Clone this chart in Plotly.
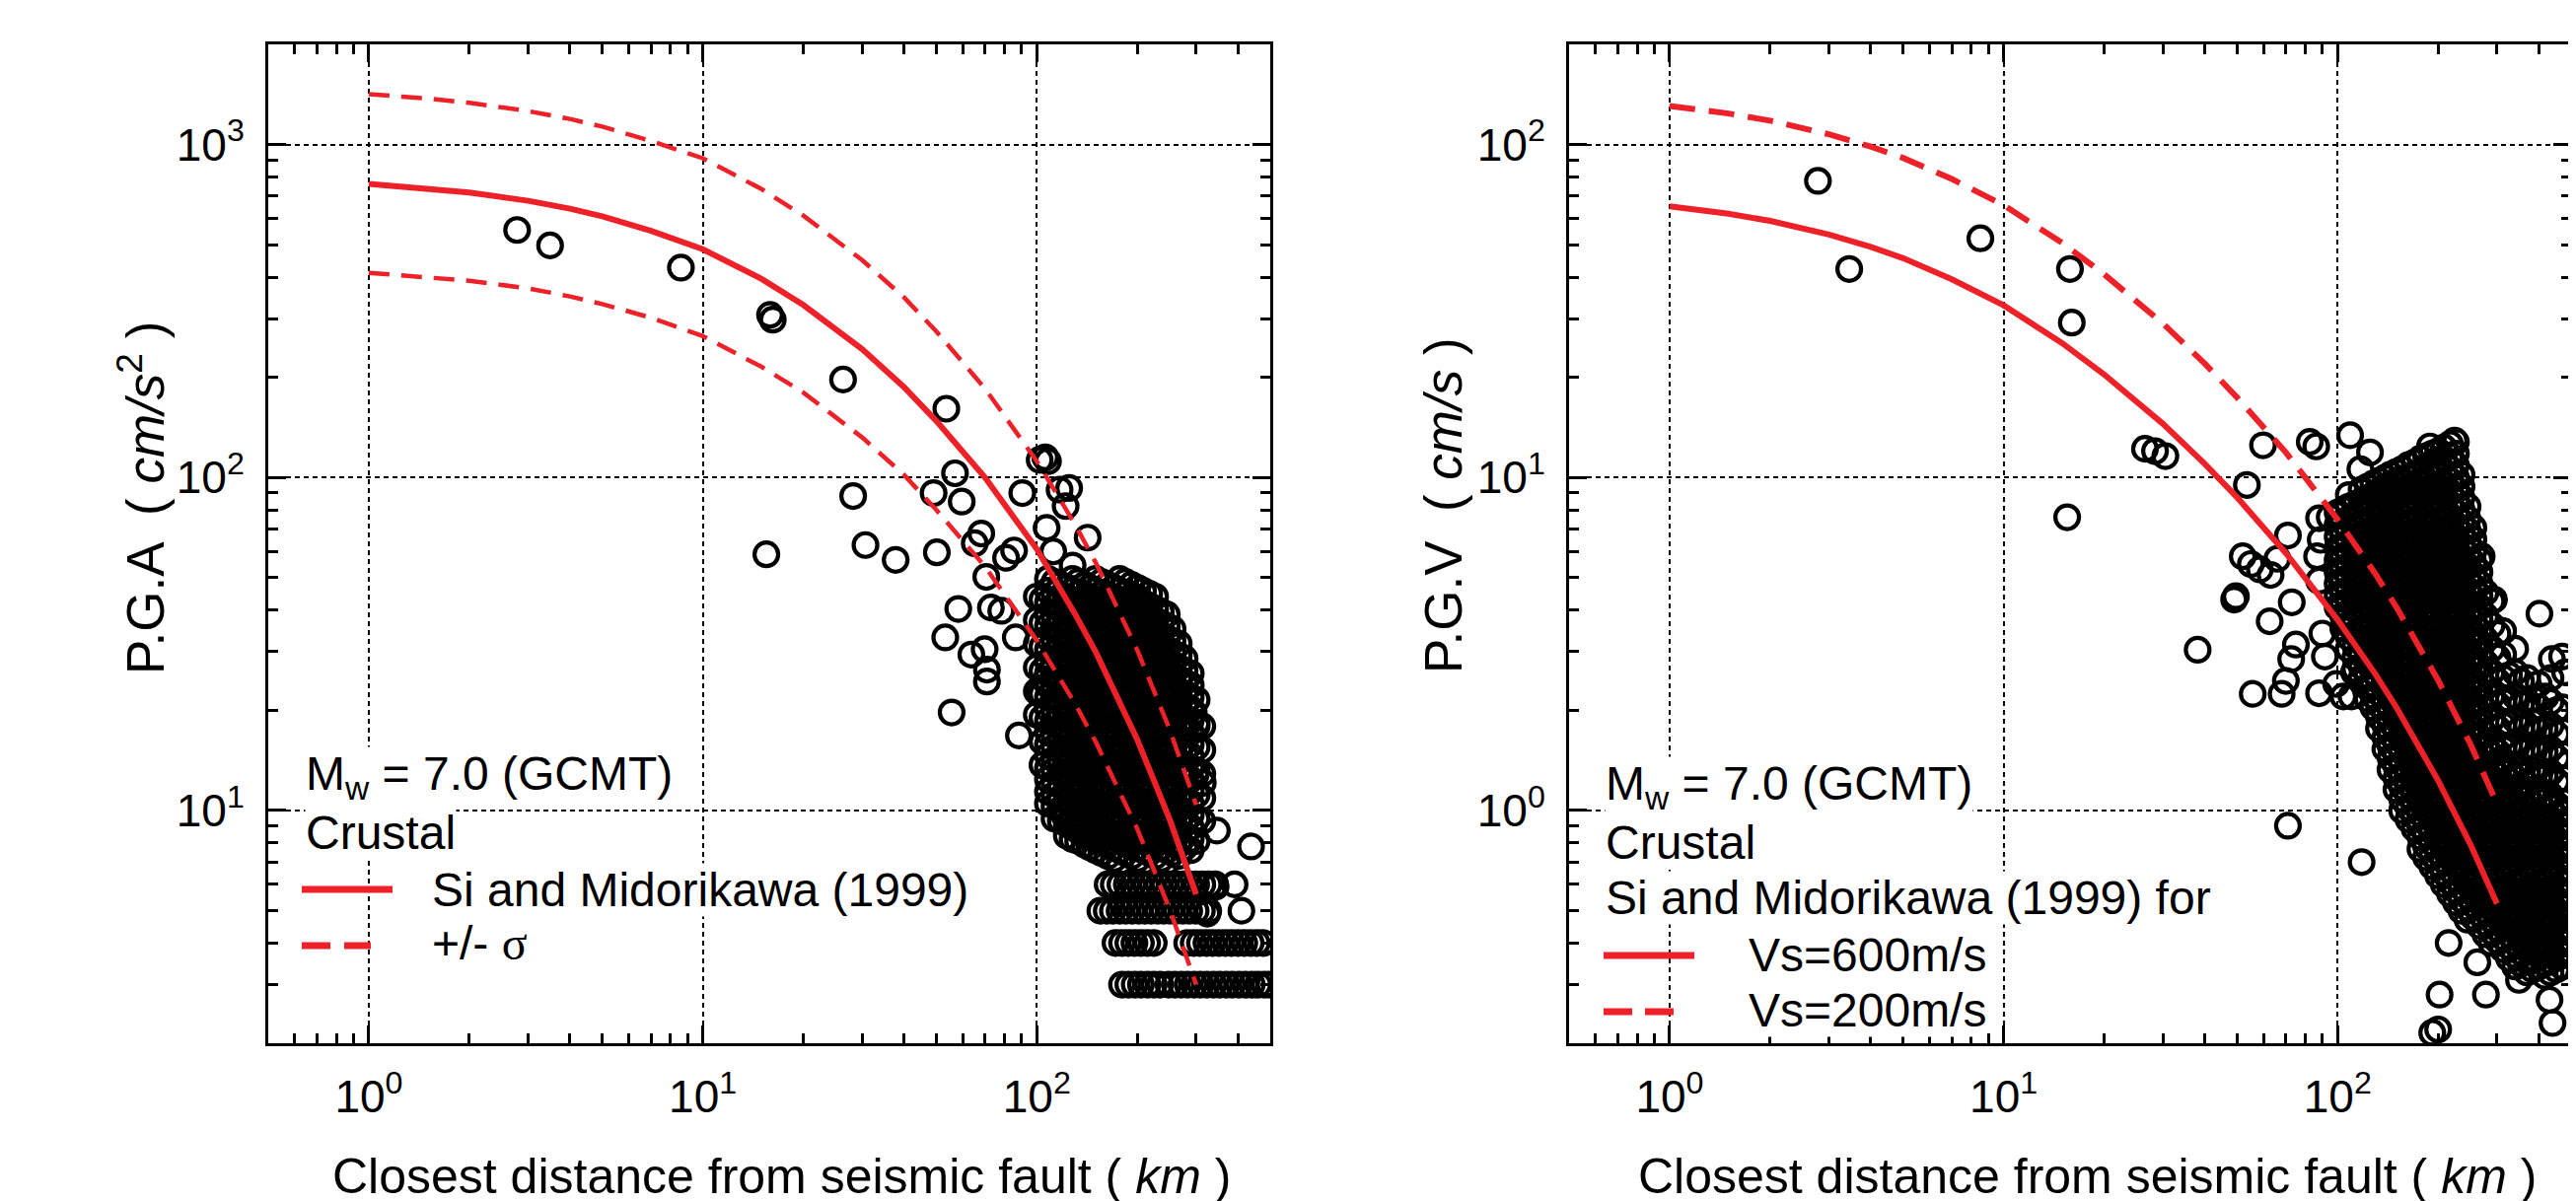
import plotly.graph_objects as go

W, H = 2612, 1218
FONT = "Liberation Sans, Arial, Helvetica, sans-serif"
RED = "#EE2128"

# ---------------- curves ----------------
curve_dist = [1, 1.5, 2, 3, 4, 5, 7, 10, 15, 20, 30, 40, 50, 70, 100, 130, 150, 200, 250, 300]
pga_median = [762, 740, 718, 678, 642, 609, 551, 485, 395, 330, 243, 187, 148, 100, 61, 39, 30, 16.3, 9.4, 5.6]
pga_plus = [1417, 1376, 1335, 1261, 1194, 1133, 1025, 910, 735, 612, 450, 348, 275, 185, 112, 72.5, 55.6, 30.3, 17.5, 10.4]
pga_minus = [412, 400, 390, 370, 350, 332, 302, 266, 215, 180, 132, 102, 80, 54, 32.4, 21.0, 16.1, 8.8, 5.05, 3.0]
pgv_600 = [65.3, 62.0, 59.0, 53.7, 49.3, 45.6, 39.4, 32.9, 25.3, 20.4, 14.5, 11.0, 8.72, 5.93, 3.74, 2.56, 2.04, 1.23, 0.79, 0.525]
pgv_200 = [130.6, 124, 118, 107.4, 98.6, 91.2, 78.8, 65.8, 50.6, 40.8, 29.0, 22.0, 17.4, 11.9, 7.48, 5.12, 4.08, 2.46, 1.58, 1.05]

# ---------------- observed PGA (distance km, cm/s2) ----------------
pga_sparse = [
    (2.78, 554), (3.49, 498), (8.6, 427), (15.9, 308), (16.2, 298),
    (26.3, 197), (53.6, 161), (28.2, 88), (15.5, 58.8), (30.7, 62.7),
    (37.8, 56.6), (49.1, 89.8), (56.9, 103), (59.6, 84.7), (50.2, 59.6),
    (58.2, 40.3), (53.2, 33.1), (63.7, 29.4), (69.8, 30.5), (70.9, 26.5),
    (70.9, 24.4), (55.6, 19.7), (88.4, 16.8), (68.2, 67.9), (65.2, 63.5),
    (70.6, 50.3), (85.5, 60.4), (80.9, 57.4), (72.9, 40.7), (78.3, 39.8),
    (86.5, 33.1), (90.5, 89.8), (102, 113), (106, 115), (108, 112), (117, 91.9),
    (122, 82.1), (125, 93), (107, 70.6), (128, 54.4), (142, 66), (102, 22.4),
    (107, 24.8), (112, 60), (120, 9.8), (134, 9.0), (277, 18.6), (295, 19.7), (301, 17.9),
    (299, 12.8), (314, 12.1), (346, 8.7), (438, 7.8), (324, 4.9), (343, 5.9),
]
pga_band = [
    (100, [19.4, 22.8, 26.9, 31.7, 37.3, 43.9]),
    (104, [13.7, 16.1, 19.0, 22.4, 26.3, 31.0, 36.6, 43.0]),
    (108, [10.5, 11.4, 12.4, 13.4, 14.6, 15.8, 17.2, 18.6, 20.2, 21.9, 23.8, 25.8, 28.0, 30.4, 33.0, 35.8, 38.8, 42.1, 45.7, 49.6]),
    (113, [9.45, 10.3, 11.15, 12.1, 13.2, 14.25, 15.5, 16.8, 18.3, 19.8, 21.5, 23.3, 25.3, 27.4, 29.8, 32.3, 35.1, 38.1, 41.2, 44.8, 48.6]),
    (118, [9.3, 10.1, 10.9, 11.9, 12.9, 14.0, 15.2, 16.5, 17.9, 19.4, 21.0, 22.8, 24.8, 26.9, 29.2, 31.7, 34.4, 37.3, 40.4, 43.9, 47.6]),
    (123, [8.4, 9.1, 9.9, 10.7, 11.65, 12.65, 13.7, 14.9, 16.1, 17.55, 19.0, 20.6, 22.4, 24.3, 26.3, 28.6, 31.0, 33.7, 36.6, 39.6, 43.0, 46.7]),
    (128, [8.2, 8.9, 9.7, 10.5, 11.4, 12.4, 13.4, 14.6, 15.8, 17.2, 18.6, 20.2, 21.9, 23.8, 25.8, 28.0, 30.4, 33.0, 35.8, 38.8, 42.1, 45.7, 49.6]),
    (133, [8.1, 8.7, 9.45, 10.3, 11.15, 12.1, 13.2, 14.25, 15.5, 16.8, 18.3, 19.8, 21.5, 23.3, 25.3, 27.4, 29.8, 32.3, 35.1, 38.1, 41.2, 44.8, 48.6]),
    (139, [7.9, 8.55, 9.3, 10.1, 10.9, 11.9, 12.9, 14.0, 15.2, 16.5, 17.9, 19.4, 21.0, 22.8, 24.8, 26.9, 29.2, 31.7, 34.4, 37.3, 40.4, 43.9, 47.6]),
    (144, [7.75, 8.4, 9.1, 9.9, 10.7, 11.65, 12.65, 13.7, 14.9, 16.1, 17.55, 19.0, 20.6, 22.4, 24.3, 26.3, 28.6, 31.0, 33.7, 36.6, 39.6, 43.0, 46.7]),
    (150, [7.6, 8.2, 8.9, 9.7, 10.5, 11.4, 12.4, 13.4, 14.6, 15.8, 17.2, 18.6, 20.2, 21.9, 23.8, 25.8, 28.0, 30.4, 33.0, 35.8, 38.8, 42.1, 45.7, 49.6]),
    (156, [7.45, 8.1, 8.7, 9.45, 10.3, 11.15, 12.1, 13.2, 14.25, 15.5, 16.8, 18.3, 19.8, 21.5, 23.3, 25.3, 27.4, 29.8, 32.3, 35.1, 38.1, 41.2, 44.8, 48.6]),
    (163, [7.3, 7.9, 8.55, 9.3, 10.1, 10.9, 11.9, 12.9, 14.0, 15.2, 16.5, 17.9, 19.4, 21.0, 22.8, 24.8, 26.9, 29.2, 31.7, 34.4, 37.3, 40.4, 43.9, 47.6]),
    (170, [7.15, 7.75, 8.4, 9.1, 9.9, 10.7, 11.65, 12.65, 13.7, 14.9, 16.1, 17.55, 19.0, 20.6, 22.4, 24.3, 26.3, 28.6, 31.0, 33.7, 36.6, 39.6, 43.0, 46.7]),
    (177, [7.0, 7.6, 8.2, 8.9, 9.7, 10.5, 11.4, 12.4, 13.4, 14.6, 15.8, 17.2, 18.6, 20.2, 21.9, 23.8, 25.8, 28.0, 30.4, 33.0, 35.8, 38.8, 42.1, 45.7, 49.6]),
    (184, [7.45, 8.1, 8.7, 9.45, 10.3, 11.15, 12.1, 13.2, 14.25, 15.5, 16.8, 18.3, 19.8, 21.5, 23.3, 25.3, 27.4, 29.8, 32.3, 35.1, 38.1, 41.2, 44.8, 48.6]),
    (192, [7.3, 7.9, 8.55, 9.3, 10.1, 10.9, 11.9, 12.9, 14.0, 15.2, 16.5, 17.9, 19.4, 21.0, 22.8, 24.8, 26.9, 29.2, 31.7, 34.4, 37.3, 40.4, 43.9, 47.6]),
    (200, [7.15, 7.75, 8.4, 9.1, 9.9, 10.7, 11.65, 12.65, 13.7, 14.9, 16.1, 17.55, 19.0, 20.6, 22.4, 24.3, 26.3, 28.6, 31.0, 33.7, 36.6, 39.6, 43.0, 46.7]),
    (208, [7.0, 7.6, 8.2, 8.9, 9.7, 10.5, 11.4, 12.4, 13.4, 14.6, 15.8, 17.2, 18.6, 20.2, 21.9, 23.8, 25.8, 28.0, 30.4, 33.0, 35.8, 38.8, 42.1, 45.7]),
    (217, [7.45, 8.1, 8.7, 9.45, 10.3, 11.15, 12.1, 13.2, 14.25, 15.5, 16.8, 18.3, 19.8, 21.5, 23.3, 25.3, 27.4, 29.8, 32.3, 35.1, 38.1, 41.2, 44.8]),
    (226, [7.3, 7.9, 8.55, 9.3, 10.1, 10.9, 11.9, 12.9, 14.0, 15.2, 16.5, 17.9, 19.4, 21.0, 22.8, 24.8, 26.9, 29.2, 31.7, 34.4, 37.3, 40.4, 43.9]),
    (235, [7.15, 7.75, 8.4, 9.1, 9.9, 10.7, 11.65, 12.65, 13.7, 14.9, 16.1, 17.55, 19.0, 20.6, 22.4, 24.3, 26.3, 28.6, 31.0, 33.7, 36.6, 39.6]),
    (245, [7.0, 7.6, 8.2, 8.9, 9.7, 10.5, 11.4, 12.4, 13.4, 14.6, 15.8, 17.2, 18.6, 20.2, 21.9, 23.8, 25.8, 28.0, 30.4, 33.0, 35.8, 38.8]),
    (255, [7.45, 8.1, 8.7, 9.45, 10.3, 11.15, 12.1, 13.2, 14.25, 15.5, 16.8, 18.3, 19.8, 21.5, 23.3, 25.3, 27.4, 29.8, 32.3, 35.1]),
    (266, [7.3, 7.9, 8.55, 9.3, 10.1, 10.9, 11.9, 12.9, 14.0, 15.2, 16.5, 17.9, 19.4, 21.0, 22.8, 24.8, 26.9, 29.2, 31.7]),
    (277, [7.75, 8.4, 9.1, 9.9, 10.7, 11.65, 12.65, 13.7, 14.9, 16.1, 17.55, 19.0, 20.6, 22.4, 24.3, 26.3, 28.6]),
    (289, [7.6, 8.2, 8.9, 9.7, 10.5, 11.4, 12.4, 13.4, 14.6, 15.8, 17.2, 18.6, 20.2, 21.9, 23.8, 25.8]),
    (301, [8.1, 9.45, 11.15, 13.2, 15.5, 18.3, 21.5]),
    (313, [9.3, 10.9, 12.9, 15.2, 17.9]),
]
pga_rows = [
    (6, [163, 170, 178, 186, 194, 203, 212, 221, 231, 241, 252, 263, 275, 287, 300, 313, 327, 342, 391]),
    (5, [155, 162, 169, 177, 185, 193, 202, 211, 220, 230, 240, 251, 262, 274, 286, 299, 312, 326, 410]),
    (4, [172, 180, 188, 196, 205, 214, 224, 282, 295, 308, 322, 336, 351, 367, 383, 400, 418, 437, 456, 476]),
    (3, [180, 188, 196.5, 205, 214.5, 224, 234, 248, 259, 271, 283, 296, 309, 323, 338, 353, 369, 385, 403, 421, 440, 460, 480, 498]),
]

# ---------------- observed PGV (distance km, cm/s) ----------------
pgv_sparse = [
    (2.78, 77.8), (3.45, 42.3), (8.52, 52.3), (15.8, 42.3), (16.0, 29.2), (15.5, 7.6),
    (26.5, 12.2), (28.4, 12.0), (30.5, 11.6), (53.5, 9.5), (59.8, 12.5), (38.1, 3.04),
    (71.0, 0.90), (118, 0.70), (82.5, 12.8), (86.3, 12.4), (109, 13.4), (125, 11.9), (117, 10.6),
    (189, 12.4), (224, 12.9), (49.6, 4.4), (49.0, 4.3), (52, 5.8), (55, 5.5), (58.5, 5.3),
    (63, 5.1), (62.6, 3.7), (55.7, 2.24), (68, 2.24), (70, 2.45), (72.6, 2.85), (75, 3.15),
    (72.9, 4.22), (71, 6.7), (66, 5.7), (88, 7.55), (89, 6.5), (86.8, 5.8), (88, 4.9),
    (90, 3.4), (91.6, 2.9), (88, 2.25), (104, 2.2), (110, 2.2), (99, 2.4), (94.7, 7.6),
    (105, 3.7), (112, 2.6), (402, 3.9), (438, 2.85), (420, 2.2), (294, 4.3), (270, 5.8),
    (215, 0.40), (202, 0.28), (278, 0.28), (192, 0.215), (200, 0.22), (431, 0.27), (440, 0.23),
    (262, 0.35), (349, 0.31), (463, 0.49), (480, 2.6), (470, 2.9),
]
pgv_band = [
    (100, [4.08, 4.42, 4.8, 5.2, 5.65, 6.13, 6.65, 7.2, 7.85]),
    (104, [3.53, 3.84, 4.17, 4.51, 4.9, 5.31, 5.77, 6.26, 6.79, 7.35, 8.01]),
    (108, [3.06, 3.32, 3.6, 3.92, 4.25, 4.6, 5.0, 5.42, 5.89, 6.39, 6.93, 7.5, 8.18, 8.86]),
    (113, [2.66, 2.88, 3.125, 3.39, 3.68, 4.0, 4.34, 4.7, 5.1, 5.53, 6.0, 6.52, 7.07, 7.65, 8.34]),
    (118, [2.5, 2.71, 2.94, 3.19, 3.46, 3.76, 4.08, 4.42, 4.8, 5.2, 5.65, 6.13, 6.65, 7.2, 7.85, 8.5, 9.2]),
    (123, [2.165, 2.35, 2.55, 2.77, 3.0, 3.26, 3.53, 3.84, 4.17, 4.51, 4.9, 5.31, 5.77, 6.26, 6.79, 7.35, 8.01, 8.68, 9.39]),
    (128, [2.04, 2.21, 2.4, 2.6, 2.82, 3.06, 3.32, 3.6, 3.92, 4.25, 4.6, 5.0, 5.42, 5.89, 6.39, 6.93, 7.5, 8.18, 8.86, 9.59]),
    (133, [1.765, 1.913, 2.08, 2.254, 2.445, 2.66, 2.88, 3.125, 3.39, 3.68, 4.0, 4.34, 4.7, 5.1, 5.53, 6.0, 6.52, 7.07, 7.65, 8.34, 9.04, 9.78]),
    (139, [1.53, 1.66, 1.8, 1.96, 2.12, 2.3, 2.5, 2.71, 2.94, 3.19, 3.46, 3.76, 4.08, 4.42, 4.8, 5.2, 5.65, 6.13, 6.65, 7.2, 7.85, 8.5, 9.2, 10.0]),
    (144, [1.327, 1.44, 1.562, 1.695, 1.838, 2.0, 2.165, 2.35, 2.55, 2.77, 3.0, 3.26, 3.53, 3.84, 4.17, 4.51, 4.9, 5.31, 5.77, 6.26, 6.79, 7.35, 8.01, 8.68, 9.39, 10.2]),
    (150, [1.157, 1.25, 1.355, 1.47, 1.594, 1.73, 1.876, 2.04, 2.21, 2.4, 2.6, 2.82, 3.06, 3.32, 3.6, 3.92, 4.25, 4.6, 5.0, 5.42, 5.89, 6.39, 6.93, 7.5, 8.18, 8.86, 9.59, 10.4]),
    (156, [1.0, 1.084, 1.18, 1.276, 1.382, 1.5, 1.626, 1.765, 1.913, 2.08, 2.254, 2.445, 2.66, 2.88, 3.125, 3.39, 3.68, 4.0, 4.34, 4.7, 5.1, 5.53, 6.0, 6.52, 7.07, 7.65, 8.34, 9.04, 9.78, 10.6]),
    (163, [0.94, 1.02, 1.11, 1.2, 1.3, 1.41, 1.53, 1.66, 1.8, 1.96, 2.12, 2.3, 2.5, 2.71, 2.94, 3.19, 3.46, 3.76, 4.08, 4.42, 4.8, 5.2, 5.65, 6.13, 6.65, 7.2, 7.85, 8.5, 9.2, 10.0, 10.9]),
    (170, [0.883, 0.96, 1.041, 1.133, 1.225, 1.327, 1.44, 1.562, 1.695, 1.838, 2.0, 2.165, 2.35, 2.55, 2.77, 3.0, 3.26, 3.53, 3.84, 4.17, 4.51, 4.9, 5.31, 5.77, 6.26, 6.79, 7.35, 8.01, 8.68, 9.39, 10.2, 11.1]),
    (177, [0.766, 0.834, 0.90, 0.98, 1.063, 1.157, 1.25, 1.355, 1.47, 1.594, 1.73, 1.876, 2.04, 2.21, 2.4, 2.6, 2.82, 3.06, 3.32, 3.6, 3.92, 4.25, 4.6, 5.0, 5.42, 5.89, 6.39, 6.93, 7.5, 8.18, 8.86, 9.59, 10.4, 11.4]),
    (184, [0.723, 0.781, 0.85, 0.92, 1.0, 1.084, 1.18, 1.276, 1.382, 1.5, 1.626, 1.765, 1.913, 2.08, 2.254, 2.445, 2.66, 2.88, 3.125, 3.39, 3.68, 4.0, 4.34, 4.7, 5.1, 5.53, 6.0, 6.52, 7.07, 7.65, 8.34, 9.04, 9.78, 10.6, 11.6]),
    (192, [0.68, 0.735, 0.80, 0.865, 0.94, 1.02, 1.11, 1.2, 1.3, 1.41, 1.53, 1.66, 1.8, 1.96, 2.12, 2.3, 2.5, 2.71, 2.94, 3.19, 3.46, 3.76, 4.08, 4.42, 4.8, 5.2, 5.65, 6.13, 6.65, 7.2, 7.85, 8.5, 9.2, 10.0, 10.9, 11.8]),
    (200, [0.638, 0.694, 0.75, 0.817, 0.883, 0.96, 1.041, 1.133, 1.225, 1.327, 1.44, 1.562, 1.695, 1.838, 2.0, 2.165, 2.35, 2.55, 2.77, 3.0, 3.26, 3.53, 3.84, 4.17, 4.51, 4.9, 5.31, 5.77, 6.26, 6.79, 7.35, 8.01, 8.68, 9.39, 10.2, 11.1, 12.0]),
    (208, [0.60, 0.651, 0.708, 0.766, 0.834, 0.90, 0.98, 1.063, 1.157, 1.25, 1.355, 1.47, 1.594, 1.73, 1.876, 2.04, 2.21, 2.4, 2.6, 2.82, 3.06, 3.32, 3.6, 3.92, 4.25, 4.6, 5.0, 5.42, 5.89, 6.39, 6.93, 7.5, 8.18, 8.86, 9.59, 10.4, 11.4, 12.3]),
    (217, [0.563, 0.611, 0.664, 0.723, 0.781, 0.85, 0.92, 1.0, 1.084, 1.18, 1.276, 1.382, 1.5, 1.626, 1.765, 1.913, 2.08, 2.254, 2.445, 2.66, 2.88, 3.125, 3.39, 3.68, 4.0, 4.34, 4.7, 5.1, 5.53, 6.0, 6.52, 7.07, 7.65, 8.34, 9.04, 9.78, 10.6, 11.6, 12.6]),
    (226, [0.53, 0.575, 0.625, 0.68, 0.735, 0.80, 0.865, 0.94, 1.02, 1.11, 1.2, 1.3, 1.41, 1.53, 1.66, 1.8, 1.96, 2.12, 2.3, 2.5, 2.71, 2.94, 3.19, 3.46, 3.76, 4.08, 4.42, 4.8, 5.2, 5.65, 6.13, 6.65, 7.2, 7.85, 8.5, 9.2, 10.0, 10.9, 11.8, 12.8]),
    (235, [0.5, 0.541, 0.587, 0.638, 0.694, 0.75, 0.817, 0.883, 0.96, 1.041, 1.133, 1.225, 1.327, 1.44, 1.562, 1.695, 1.838, 2.0, 2.165, 2.35, 2.55, 2.77, 3.0, 3.26, 3.53, 3.84, 4.17, 4.51, 4.9, 5.31, 5.77, 6.26, 6.79, 7.35, 8.01, 8.68, 9.39, 10.2]),
    (245, [0.47, 0.51, 0.553, 0.60, 0.651, 0.708, 0.766, 0.834, 0.90, 0.98, 1.063, 1.157, 1.25, 1.355, 1.47, 1.594, 1.73, 1.876, 2.04, 2.21, 2.4, 2.6, 2.82, 3.06, 3.32, 3.6, 3.92, 4.25, 4.6, 5.0, 5.42, 5.89, 6.39, 6.93, 7.5, 8.18]),
    (255, [0.479, 0.521, 0.563, 0.611, 0.664, 0.723, 0.781, 0.85, 0.92, 1.0, 1.084, 1.18, 1.276, 1.382, 1.5, 1.626, 1.765, 1.913, 2.08, 2.254, 2.445, 2.66, 2.88, 3.125, 3.39, 3.68, 4.0, 4.34, 4.7, 5.1, 5.53, 6.0, 6.52, 7.07]),
    (266, [0.451, 0.49, 0.53, 0.575, 0.625, 0.68, 0.735, 0.80, 0.865, 0.94, 1.02, 1.11, 1.2, 1.3, 1.41, 1.53, 1.66, 1.8, 1.96, 2.12, 2.3, 2.5, 2.71, 2.94, 3.19, 3.46, 3.76, 4.08, 4.42, 4.8, 5.2, 5.65]),
    (277, [0.425, 0.46, 0.5, 0.541, 0.587, 0.638, 0.694, 0.75, 0.817, 0.883, 0.96, 1.041, 1.133, 1.225, 1.327, 1.44, 1.562, 1.695, 2.0, 2.35, 2.77, 3.26, 3.84, 4.51]),
    (289, [0.40, 0.433, 0.47, 0.51, 0.553, 0.60, 0.651, 0.708, 0.766, 0.834, 0.90, 0.98, 1.063, 1.157, 1.25, 1.355, 1.47, 1.594, 1.876, 2.21, 2.6, 3.06, 3.6, 4.25]),
    (301, [0.407, 0.442, 0.479, 0.521, 0.563, 0.611, 0.664, 0.723, 0.781, 0.85, 0.92, 1.0, 1.084, 1.18, 1.276, 1.382, 1.5, 1.765, 2.08, 2.445, 2.88, 3.39]),
    (313, [0.383, 0.416, 0.451, 0.49, 0.53, 0.575, 0.625, 0.68, 0.735, 0.80, 0.865, 0.94, 1.02, 1.11, 1.2, 1.3, 1.41, 1.53, 1.8, 2.12, 2.5, 2.94, 3.46]),
    (326, [0.36, 0.391, 0.425, 0.46, 0.5, 0.541, 0.587, 0.638, 0.694, 0.75, 0.817, 0.883, 0.96, 1.041, 1.133, 1.225, 1.327, 1.562, 1.838, 2.165, 2.55]),
    (340, [0.34, 0.368, 0.40, 0.433, 0.47, 0.51, 0.553, 0.60, 0.651, 0.708, 0.766, 0.834, 0.90, 0.98, 1.063, 1.157, 1.25, 1.355, 1.594, 1.876, 2.21, 2.6, 3.06]),
    (354, [0.347, 0.375, 0.407, 0.442, 0.479, 0.521, 0.563, 0.611, 0.664, 0.723, 0.781, 0.85, 0.92, 1.0, 1.084, 1.18, 1.276, 1.5, 1.765, 2.08, 2.445]),
    (369, [0.326, 0.353, 0.383, 0.416, 0.451, 0.49, 0.53, 0.575, 0.625, 0.68, 0.735, 0.80, 0.865, 0.94, 1.02, 1.11, 1.2, 1.3, 1.53, 1.8, 2.12, 2.5]),
    (384, [0.333, 0.36, 0.391, 0.425, 0.46, 0.5, 0.541, 0.587, 0.638, 0.694, 0.75, 0.817, 0.883, 0.96, 1.041, 1.133, 1.327, 1.562, 1.838, 2.165]),
    (400, [0.34, 0.368, 0.40, 0.433, 0.47, 0.51, 0.553, 0.60, 0.651, 0.708, 0.766, 0.834, 0.90, 0.98, 1.063, 1.157, 1.25, 1.47, 1.73, 2.04, 2.4]),
    (417, [0.319, 0.347, 0.375, 0.407, 0.442, 0.479, 0.521, 0.563, 0.611, 0.664, 0.723, 0.781, 0.85, 0.92, 1.0, 1.084, 1.276, 1.5, 1.765]),
    (434, [0.326, 0.353, 0.383, 0.416, 0.451, 0.49, 0.53, 0.575, 0.625, 0.68, 0.735, 0.80, 0.865, 0.94, 1.02, 1.11, 1.3, 1.53, 1.8, 2.12, 2.5]),
    (452, [0.333, 0.36, 0.391, 0.425, 0.46, 0.5, 0.541, 0.587, 0.638, 0.694, 0.75, 0.817, 0.883, 0.96, 1.041, 1.225, 1.44, 1.695, 2.0]),
    (471, [0.34, 0.368, 0.40, 0.433, 0.47, 0.51, 0.553, 0.60, 0.651, 0.708, 0.766, 0.834, 0.90, 0.98, 1.063, 1.25, 1.47, 1.73, 2.04]),
    (490, [0.375, 0.407, 0.442, 0.479, 0.521, 0.563, 0.611, 0.664, 0.723, 0.781, 0.85, 0.92, 1.0, 1.18, 1.382]),
]

# tick labels
x_tickvals = [1, 10, 100]
x_ticktext = ["10<sup>0</sup>", "10<sup>1</sup>", "10<sup>2</sup>"]
pga_tickvals = [10, 100, 1000]
pga_ticktext = ["10<sup>1</sup>", "10<sup>2</sup>", "10<sup>3</sup>"]
pgv_tickvals = [1, 10, 100]
pgv_ticktext = ["10<sup>0</sup>", "10<sup>1</sup>", "10<sup>2</sup>"]


def flatten(sparse, band, rows=()):
    xs = [p[0] for p in sparse]
    ys = [p[1] for p in sparse]
    for d, vals in band:
        xs += [d] * len(vals)
        ys += list(vals)
    for v, ds in rows:
        xs += list(ds)
        ys += [v] * len(ds)
    return xs, ys


def minor_vals(lo_exp, hi_exp):
    out = []
    for e in range(lo_exp, hi_exp + 1):
        for m in range(2, 10):
            out.append(m * 10 ** e)
    return out


pga_x, pga_y = flatten(pga_sparse, pga_band, pga_rows)
pgv_x, pgv_y = flatten(pgv_sparse, pgv_band)

marker = dict(symbol="circle-open", size=24, color="black", line=dict(width=4.2))

fig = go.Figure()
fig.add_trace(go.Scatter(x=pga_x, y=pga_y, mode="markers", marker=marker, xaxis="x", yaxis="y", showlegend=False))
fig.add_trace(go.Scatter(x=curve_dist, y=pga_plus, mode="lines", line=dict(color=RED, width=4.5, dash="21px,12px"), xaxis="x", yaxis="y", showlegend=False))
fig.add_trace(go.Scatter(x=curve_dist, y=pga_minus, mode="lines", line=dict(color=RED, width=4.5, dash="21px,12px"), xaxis="x", yaxis="y", showlegend=False))
fig.add_trace(go.Scatter(x=curve_dist, y=pga_median, mode="lines", line=dict(color=RED, width=6), xaxis="x", yaxis="y", showlegend=False))

fig.add_trace(go.Scatter(x=pgv_x, y=pgv_y, mode="markers", marker=marker, xaxis="x2", yaxis="y2", showlegend=False))
fig.add_trace(go.Scatter(x=curve_dist, y=pgv_200, mode="lines", line=dict(color=RED, width=6, dash="26px,14px"), xaxis="x2", yaxis="y2", showlegend=False))
fig.add_trace(go.Scatter(x=curve_dist, y=pgv_600, mode="lines", line=dict(color=RED, width=6), xaxis="x2", yaxis="y2", showlegend=False))


def axis(rng, tickvals, ticktext, minor, domain, anchor):
    return dict(
        type="log", range=rng, domain=domain, anchor=anchor,
        tickmode="array", tickvals=tickvals, ticktext=ticktext,
        ticks="inside", ticklen=18, tickwidth=3, tickcolor="black",
        showline=True, linewidth=3, linecolor="black", mirror="allticks",
        showgrid=True, gridcolor="black", gridwidth=1.5, griddash="5px,4px",
        minor=dict(tickmode="array", tickvals=minor, ticks="inside", ticklen=10,
                   tickwidth=2.5, tickcolor="black", showgrid=False),
        tickfont=dict(family=FONT, size=46, color="black"),
        ticklabelstandoff=12,
        zeroline=False, fixedrange=True,
    )


ydom = [168 / H, 1181 / H]
xdom1 = [264 / W, 1280 / W]
xdom2 = [1583 / W, 2599 / W]
xr = [-0.30103, 2.69897]

fig.update_layout(
    width=W, height=H, autosize=False,
    margin=dict(l=0, r=0, t=0, b=0),
    paper_bgcolor="white", plot_bgcolor="white",
    showlegend=False,
    font=dict(family=FONT, color="black"),
    xaxis=axis(xr, x_tickvals, x_ticktext, minor_vals(-1, 2), xdom1, "y"),
    yaxis=axis([0.30103, 3.30103], pga_tickvals, pga_ticktext, minor_vals(0, 2), ydom, "x"),
    xaxis2=axis(xr, x_tickvals, x_ticktext, minor_vals(-1, 2), xdom2, "y2"),
    yaxis2=axis([-0.69897, 2.30103], pgv_tickvals, pgv_ticktext, minor_vals(-1, 1), ydom, "x2"),
)


def px(x):
    return x / W


def py(y):
    return 1 - y / H


ann = []


def text(x, y, s, size=48, anchor="left", bg="white", angle=0):
    a = dict(x=px(x), y=py(y), xref="paper", yref="paper", text=s, showarrow=False,
             xanchor=anchor, yanchor="middle", textangle=angle,
             font=dict(family=FONT, size=size, color="black"), borderpad=0)
    if bg:
        a["bgcolor"] = bg
    ann.append(a)


SIG = '<span style="font-family:Liberation Serif, Times New Roman, serif">σ</span>'
# left panel legend
text(301, 780, "M<sub>w</sub> = 7.0 (GCMT)")
text(301, 836, "Crustal")
text(429, 894, "Si and Midorikawa (1999)")
text(429, 948, "+/- " + SIG)
# right panel legend
text(1619, 790, "M<sub>w</sub> = 7.0 (GCMT)")
text(1619, 846, "Crustal")
text(1619, 902, "Si and Midorikawa (1999) for")
text(1764, 960, "Vs=600m/s")
text(1764, 1016, "Vs=200m/s")
# axis titles
text(785, 1185, "Closest distance from seismic fault ( <i>km</i> )", size=50, anchor="center", bg=None)
text(2108, 1185, "Closest distance from seismic fault ( <i>km</i> )", size=50, anchor="center", bg=None)
text(135, 497, "P.G.A  ( <i>cm/s</i><sup>2</sup> )", size=53, anchor="center", bg=None, angle=-90)
text(1455, 505, "P.G.V  ( <i>cm/s</i> )", size=53, anchor="center", bg=None, angle=-90)
fig.update_layout(annotations=ann)

# legend keys
shapes = [
    dict(type="line", xref="paper", yref="paper", x0=px(298), x1=px(390), y0=py(894), y1=py(894),
         line=dict(color=RED, width=7)),
    dict(type="line", xref="paper", yref="paper", x0=px(298), x1=px(368), y0=py(951), y1=py(951),
         line=dict(color=RED, width=7, dash="29px,14px")),
    dict(type="line", xref="paper", yref="paper", x0=px(1618), x1=px(1710), y0=py(961), y1=py(961),
         line=dict(color=RED, width=7)),
    dict(type="line", xref="paper", yref="paper", x0=px(1618), x1=px(1689), y0=py(1018), y1=py(1018),
         line=dict(color=RED, width=7, dash="29px,13px")),
]
fig.update_layout(shapes=shapes)

fig.write_html("out.html")
